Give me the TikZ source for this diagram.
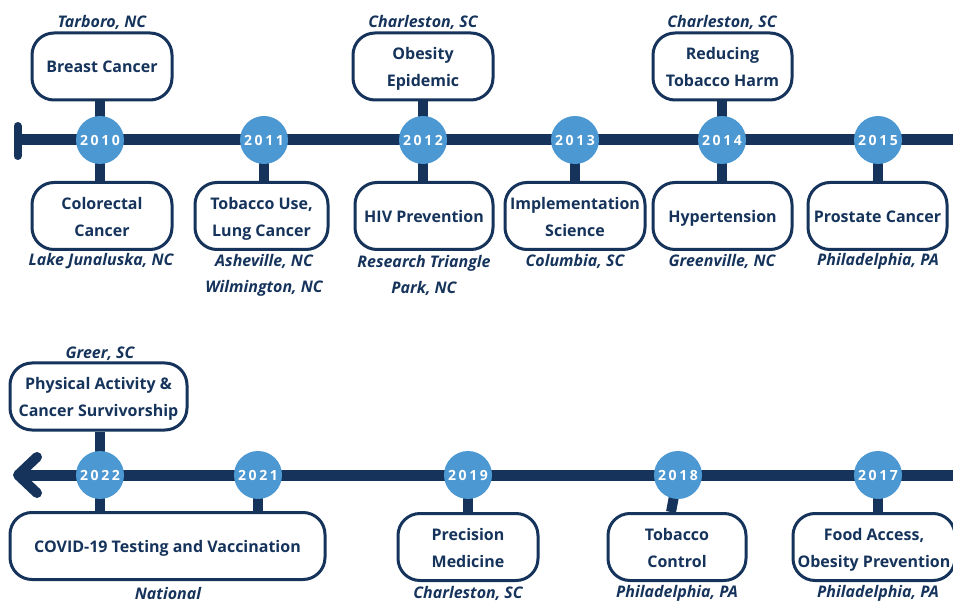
\documentclass[tikz,border=0pt]{standalone}
\usepackage{fontspec}
\setmainfont{Open Sans}
\newfontfamily\yearfont[LetterSpace=18]{Open Sans}
\usetikzlibrary{backgrounds,calc}
\definecolor{navy}{HTML}{15335B}
\definecolor{dot}{HTML}{4C98D3}
\tikzset{
  topic/.style={draw=navy, line width=3pt, rounded corners=22pt, fill=white,
    minimum height=67pt, text=navy, inner sep=0pt, align=center,
    text height=17pt, text depth=4pt,
    font=\fontsize{16}{27}\selectfont\bfseries},
  twoline/.style={text height=45pt, text depth=4pt},
  yearnode/.style={circle, fill=dot, minimum size=48pt, inner sep=0pt, text=white,
    font=\fontsize{14}{14}\selectfont\yearfont\bfseries},
  place/.style={text=navy, inner sep=0pt, align=center,
    font=\fontsize{16}{26}\selectfont\bfseries\itshape},
  axis/.style={draw=navy, line width=11pt},
  stem/.style={draw=navy, line width=10pt},
}
\begin{document}
\begin{tikzpicture}[x=1pt,y=-1pt]
\useasboundingbox (0,0) rectangle (953,601);

% ---------- top row ----------
\node[yearnode] (y10) at (100,140) {2010};
\node[yearnode] (y11) at (264,140) {2011};
\node[yearnode] (y12) at (423,140) {2012};
\node[yearnode] (y13) at (575,140) {2013};
\node[yearnode] (y14) at (722,140) {2014};
\node[yearnode] (y15) at (878,140) {2015};

\node[topic, minimum width=140pt] (bc) at (102,66.5) {Breast Cancer};
\node[topic, twoline, minimum width=140pt] (cc) at (102,216) {Colorectal\\Cancer};
\node[topic, twoline, minimum width=133pt] (tu) at (261.5,216) {Tobacco Use,\\Lung Cancer};
\node[topic, twoline, minimum width=140pt] (oe) at (423,66.5) {Obesity\\Epidemic};
\node[topic, minimum width=138pt] (hiv) at (424,216) {HIV Prevention};
\node[topic, twoline, minimum width=140pt] (is) at (575,216) {Implementation\\Science};
\node[topic, twoline, minimum width=139pt] (rt) at (722.5,66.5) {Reducing\\Tobacco Harm};
\node[topic, minimum width=139pt] (ht) at (722.5,216) {Hypertension};
\node[topic, minimum width=139pt] (pc) at (877.5,216) {Prostate Cancer};

\node[place] (l1) at (102,22) {Tarboro, NC};
\node[place] (l2) at (101,261) {Lake Junaluska, NC};
\node[place] (l3) at (264,275) {Asheville, NC\\Wilmington, NC};
\node[place] (l4) at (423,22) {Charleston, SC};
\node[place] (l5) at (424,275) {Research Triangle\\Park, NC};
\node[place] (l6) at (575,261) {Columbia, SC};
\node[place] (l7) at (722,22) {Charleston, SC};
\node[place] (l8) at (722,261) {Greenville, NC};
\node[place] (l9) at (878,261) {Philadelphia, PA};

% ---------- bottom row ----------
\node[yearnode] (y22) at (100,475) {2022};
\node[yearnode] (y21) at (258,475) {2021};
\node[yearnode] (y19) at (468,475) {2019};
\node[yearnode] (y18) at (678,475) {2018};
\node[yearnode] (y17) at (878,475) {2017};

\node[topic, twoline, minimum width=177pt] (pa) at (98.5,396.5) {Physical Activity \&\\Cancer Survivorship};
\node[topic, minimum width=315pt] (cv) at (167.5,546) {COVID-19 Testing and Vaccination};
\node[topic, twoline, minimum width=140pt] (pm) at (468,547) {Precision\\Medicine};
\node[topic, twoline, minimum width=138pt] (tc) at (677,547) {Tobacco\\Control};
\node[topic, twoline, minimum width=162pt] (fa) at (874,547) {Food Access,\\Obesity Prevention};

\node[place] (m1) at (100,354) {Greer, SC};
\node[place] (m2) at (168,593) {National};
\node[place] (m3) at (468,593) {Charleston, SC};
\node[place] (m4) at (677,593) {Philadelphia, PA};
\node[place] (m5) at (878,593) {Philadelphia, PA};

\coordinate (tl) at (17,140);
\coordinate (tr) at (953,140);
\coordinate (bl) at (18,475);
\coordinate (br) at (953,475);
\coordinate (au) at (37,457);
\coordinate (ad) at (37,493);
\coordinate (eu) at (17.5,126);
\coordinate (ed) at (17.5,156);

\begin{scope}[on background layer]
  \draw[axis] (tl) -- (tr);
  \draw[navy, line width=8pt, line cap=round] (eu) -- (ed);
  \draw[axis] (bl) -- (br);
  \draw[navy, line width=10pt, line cap=round, line join=round] (au) -- (bl) -- (ad);
  % stems top
  \draw[stem] (y10.center) -- (y10.center |- bc.south);
  \draw[stem] (y10.center) -- (y10.center |- cc.north);
  \draw[stem] (y11.center) -- (y11.center |- tu.north);
  \draw[stem] (y12.center) -- (y12.center |- oe.south);
  \draw[stem] (y12.center) -- (y12.center |- hiv.north);
  \draw[stem] (y13.center) -- (y13.center |- is.north);
  \draw[stem] (y14.center) -- (y14.center |- rt.south);
  \draw[stem] (y14.center) -- (y14.center |- ht.north);
  \draw[stem] (y15.center) -- (y15.center |- pc.north);
  % stems bottom
  \draw[stem] (y22.center) -- (y22.center |- pa.south);
  \draw[stem] (y22.center) -- (y22.center |- cv.north);
  \draw[stem] (y21.center) -- (y21.center |- cv.north);
  \draw[stem] (y19.center) -- (y19.center |- pm.north);
  \draw[stem] (y18.center) -- ($(tc.north)+(-6,0)$);
  \draw[stem] (y17.center) -- (y17.center |- fa.north);
\end{scope}
\end{tikzpicture}
\end{document}
